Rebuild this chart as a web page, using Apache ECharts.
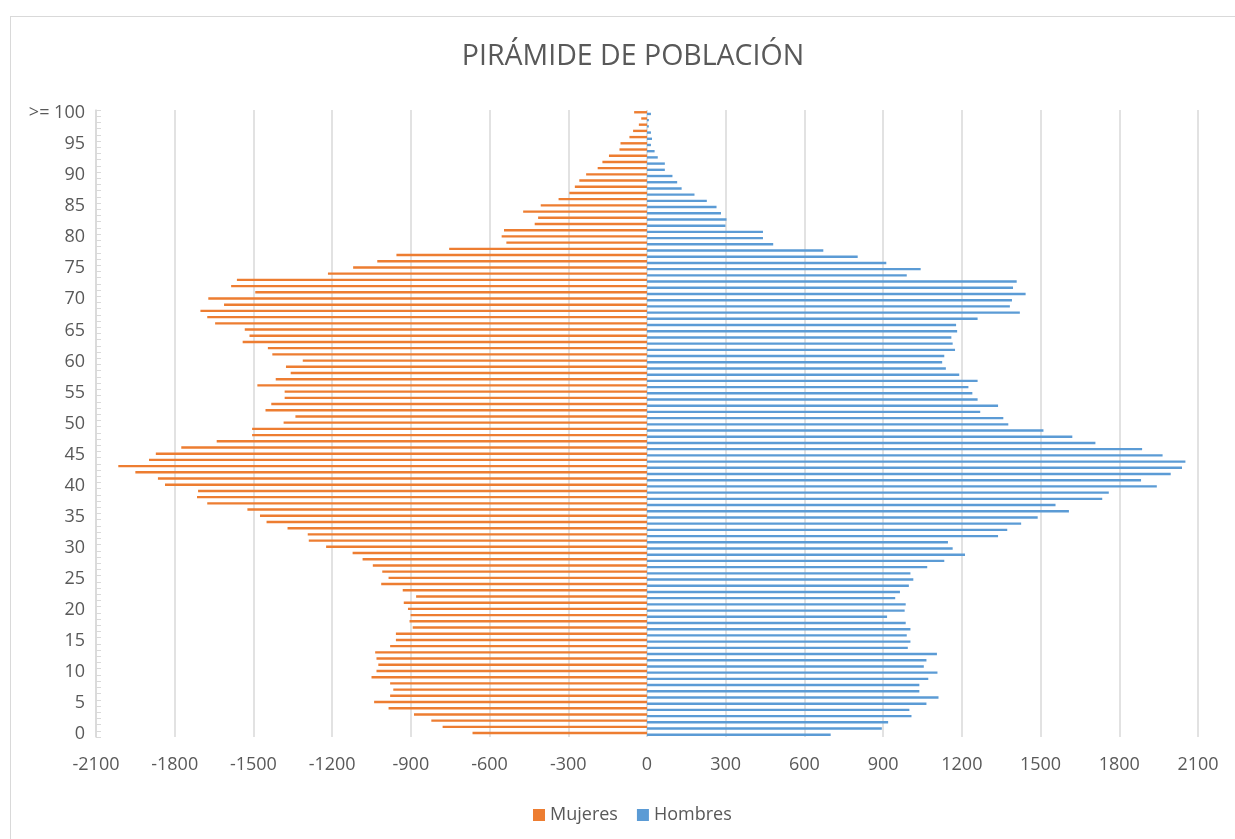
<!DOCTYPE html>
<html>
<head>
<meta charset="utf-8">
<title>Pirámide de población</title>
<script src="https://cdn.jsdelivr.net/npm/echarts@6/dist/echarts.min.js"></script>
<style>
    html, body { margin: 0; padding: 0; background: #fff; overflow: hidden; }
    #frame {
        position: absolute; left: 10px; top: 16px; width: 1260px; height: 860px;
        border: 1.5px solid #d9d9d9; box-sizing: border-box;
    }
    #chart { position: absolute; left: 0; top: 0; width: 1235px; height: 839px; }
</style>
</head>
<body>
<div id="frame"></div>
<div id="chart"></div>
<script>
// edades 0 .. >= 100
const edades = [
    '0', '1', '2', '3', '4', '5', '6', '7', '8', '9',
    '10', '11', '12', '13', '14', '15', '16', '17', '18', '19',
    '20', '21', '22', '23', '24', '25', '26', '27', '28', '29',
    '30', '31', '32', '33', '34', '35', '36', '37', '38', '39',
    '40', '41', '42', '43', '44', '45', '46', '47', '48', '49',
    '50', '51', '52', '53', '54', '55', '56', '57', '58', '59',
    '60', '61', '62', '63', '64', '65', '66', '67', '68', '69',
    '70', '71', '72', '73', '74', '75', '76', '77', '78', '79',
    '80', '81', '82', '83', '84', '85', '86', '87', '88', '89',
    '90', '91', '92', '93', '94', '95', '96', '97', '98', '99',
    '>= 100'
];

// valores negativos para el lado izquierdo
const mujeres = [
    -665, -779, -822, -888, -985, -1040, -979, -967, -979, -1050,
    -1031, -1024, -1031, -1036, -979, -957, -957, -893, -905, -901,
    -911, -927, -880, -931, -1013, -985, -1009, -1045, -1084, -1122,
    -1223, -1289, -1293, -1370, -1450, -1475, -1523, -1676, -1715, -1711,
    -1837, -1864, -1950, -2015, -1898, -1872, -1775, -1640, -1505, -1505,
    -1385, -1340, -1454, -1432, -1381, -1381, -1485, -1415, -1358, -1376,
    -1312, -1428, -1445, -1541, -1515, -1533, -1646, -1676, -1702, -1612,
    -1672, -1493, -1585, -1563, -1216, -1120, -1028, -955, -754, -536,
    -554, -545, -428, -415, -472, -405, -337, -296, -275, -258,
    -232, -188, -170, -145, -105, -101, -67, -53, -31, -22,
    -49
];

const hombres = [
    700, 895, 919, 1008, 1000, 1065, 1111, 1038, 1038, 1072,
    1107, 1055, 1065, 1105, 994, 1004, 990, 1004, 986, 915,
    982, 986, 946, 964, 998, 1015, 1004, 1068, 1133, 1212,
    1165, 1147, 1338, 1373, 1426, 1489, 1608, 1557, 1735, 1760,
    1943, 1883, 1996, 2039, 2052, 1965, 1887, 1709, 1621, 1511,
    1377, 1358, 1270, 1338, 1260, 1240, 1225, 1260, 1190, 1139,
    1125, 1133, 1174, 1165, 1160, 1182, 1178, 1260, 1421, 1383,
    1391, 1443, 1395, 1409, 990, 1043, 912, 803, 672, 481,
    442, 442, 299, 303, 282, 265, 228, 181, 132, 115,
    97, 68, 68, 41, 29, 15, 19, 15, 7, 7,
    15
];

const TEXT = '#595959';
const GRID = '#d9d9d9';
const FONT = '"Open Sans", sans-serif';

const chart = echarts.init(document.getElementById('chart'), null, { renderer: 'canvas' });

chart.setOption({
    animation: false,
    backgroundColor: 'transparent',
    textStyle: { fontFamily: FONT },
    title: {
        text: 'PIRÁMIDE DE POBLACIÓN',
        left: 628,
        textAlign: 'center',
        top: 37,
        textStyle: { color: TEXT, fontSize: 28.5, fontWeight: 'normal', fontFamily: FONT }
    },
    legend: {
        data: ['Mujeres', 'Hombres'],
        left: 528,
        top: 801,
        icon: 'rect',
        itemWidth: 12,
        itemHeight: 12,
        itemGap: 19,
        textStyle: { color: TEXT, fontSize: 18, fontFamily: FONT }
    },
    grid: { left: 96, right: 37, top: 110, bottom: 102, containLabel: false },
    xAxis: {
        type: 'value',
        min: -2100,
        max: 2100,
        interval: 300,
        axisLine: { show: false },
        axisTick: { show: false },
        axisLabel: { color: TEXT, fontSize: 18, margin: 19, fontFamily: FONT, formatter: v => String(v) },
        splitLine: { lineStyle: { color: GRID, width: 1.5 } }
    },
    yAxis: [
        {
            type: 'category',
            data: edades,
            axisLine: { show: false },
            axisTick: { show: false },
            axisLabel: { interval: 4, color: TEXT, fontSize: 18, margin: 11, fontFamily: FONT },
            splitLine: { show: false }
        },
        {
            // eje vertical en el cero, sólo con marcas
            type: 'category',
            data: edades,
            position: 'left',
            axisLine: { onZero: true, lineStyle: { color: GRID, width: 1.5 } },
            axisTick: { show: true, inside: true, interval: 0, length: 5, lineStyle: { color: GRID } },
            axisLabel: { show: false },
            splitLine: { show: false }
        }
    ],
    series: [
        {
            name: 'Mujeres',
            type: 'bar',
            yAxisIndex: 0,
            data: mujeres,
            barWidth: 2.4,
            barGap: '-30%',
            itemStyle: { color: '#ed7d31' }
        },
        {
            name: 'Hombres',
            type: 'bar',
            yAxisIndex: 0,
            data: hombres,
            barWidth: 2.4,
            itemStyle: { color: '#5b9bd5' }
        }
    ]
});

window.addEventListener('resize', () => chart.resize());
</script>
</body>
</html>
